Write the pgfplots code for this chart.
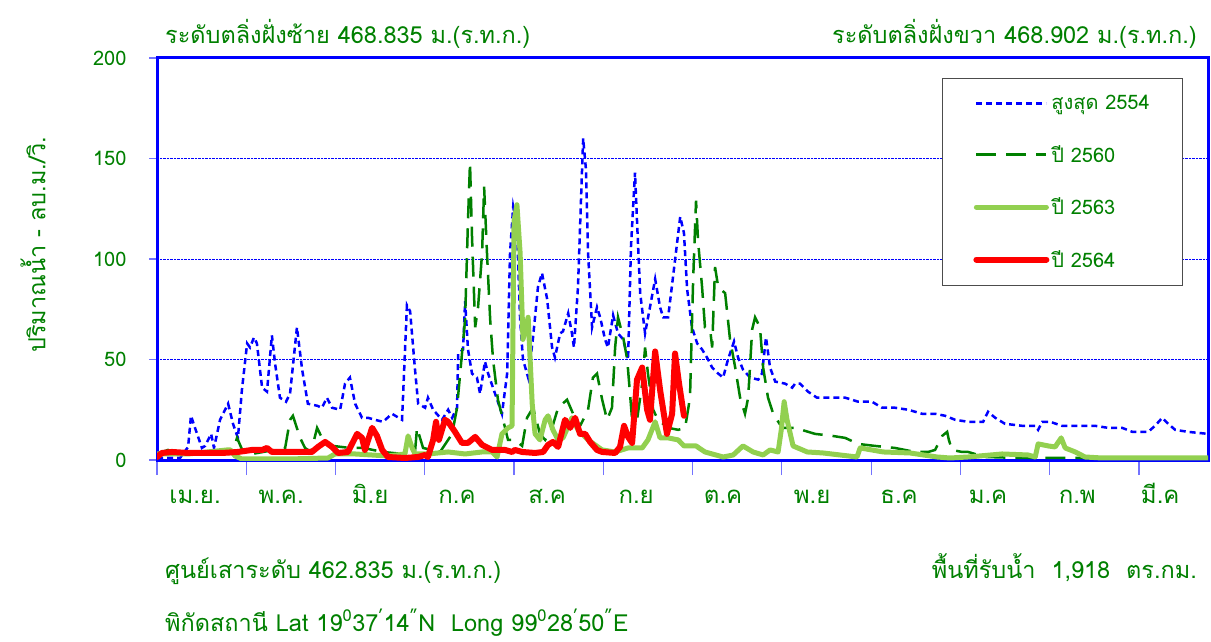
\documentclass[border=0pt]{standalone}
\usepackage{pgfplots}
\pgfplotsset{compat=1.18}
\usepackage{fontspec}
\setmainfont[Script=Thai]{Loma}
\definecolor{tgreen}{RGB}{0,128,0}
\definecolor{lgreen}{RGB}{146,208,80}
\definecolor{dgreen}{RGB}{0,128,0}
\begin{document}
\begin{tikzpicture}[x=1pt,y=1pt]
\useasboundingbox (0,0) rectangle (1211,641);
\begin{axis}[
  at={(157pt,181pt)}, anchor=south west, scale only axis,
  width=1051pt, height=402pt,
  xmin=0, xmax=365, ymin=0, ymax=200,
  axis line style={draw=blue, line width=3pt},
  ytick={0,50,100,150,200},
  xtick={13.2,43.1,74.0,104.2,135.5,166.4,196.6,227.5,257.7,288.6,319.6,348.4},
  xticklabels={เม.ย.,พ.ค.,มิ.ย,ก.ค,ส.ค,ก.ย,ต.ค,พ.ย,ธ.ค,ม.ค,ก.พ,มี.ค},
  minor xtick={0,31,62,93,124,155,186,217,248,279,310,341},
  tick align=outside, xtick pos=bottom, ytick pos=left,
  major tick length=8pt, minor tick length=15pt,
  major x tick style={draw=none},
  minor tick style={draw=blue!55, line width=1.2pt},
  major y tick style={draw=blue!55, line width=1.2pt},
  ymajorgrids, grid style={draw=blue, densely dotted, line width=0.8pt},
  /pgf/number format/assume math mode=true,
  yticklabel style={font=\fontsize{20}{20}\selectfont, text=tgreen},
  xticklabel style={font=\fontsize{24}{24}\selectfont, text=tgreen, text height=15pt, text depth=4pt},
  yticklabel shift=19pt,
  xticklabel shift=17pt,
  legend style={at={(0.976,0.950)}, anchor=north east, draw=black!70, line width=1pt,
    fill=white, font=\fontsize{20}{20}\selectfont, text=tgreen,
    inner xsep=30.5pt, inner ysep=15pt, row sep=30pt},
  legend cell align=left,
  legend image code/.code={\draw[#1] (0pt,0pt) -- (70pt,0pt);},
]
\addplot[blue, line width=2.5pt, dash pattern=on 6pt off 4pt] coordinates {
(0,1)(3,1)(8,1)(10.8,6.5)(11.8,22)(13.2,16)(15.6,6)(16.7,7)(18.8,13)(19.8,6)(21.9,20)(24.7,28)(26.4,18)(28.1,11)(29.5,35)(31.3,58)(32.3,56)(33.7,61)(34.7,58)(36.5,36)(38.2,34)(39.9,62)(41.0,48)(42.7,31)(44.8,29)(46.2,33)(48.6,66)(50.4,45)(52.4,28)(55.6,27)(57.3,26)(59.0,31)(60.8,26)(63.6,25)(65.3,38)(67.0,41)(68.8,28)(71.2,21)(73.3,21)(75.7,20)(78.5,19)(81.6,23)(85.1,20)(86.8,77)(87.9,74)(89.6,45)(90.7,28)(93.1,26)(94.1,31)(95.9,25)(99.0,20)(101.1,25)(102.5,21)(104.2,26)(104.6,53)(106.3,55)(107.0,79)(108.0,55)(109.4,43)(111.1,41)(112.2,33)(113.9,49)(115.0,43)(117.4,33)(119.1,26)(119.8,23)(121.6,43)(122.6,103)(123.7,126)(125.0,116)(126.1,70)(127.1,50)(128.9,41)(130.6,61)(132.3,86)(133.7,93)(135.5,80)(137.2,56)(138.2,51)(140.0,63)(141.0,64)(142.8,73)(144.1,63)(144.8,56)(146.2,86)(147.6,144)(148.0,160)(149.0,144)(149.7,103)(151.1,66)(152.8,76)(153.9,71)(155.6,60)(156.6,56)(158.4,72)(160.1,63)(161.9,60)(163.6,50)(164.6,106)(166.0,143)(166.7,119)(167.8,83)(169.5,63)(171.2,76)(173.0,90)(174.7,76)(175.8,71)(177.5,71)(179.2,91)(181.7,121)(183.0,113)(184.1,85)(185.8,66)(187.6,58)(189.3,55)(191.0,51)(192.8,46)(194.9,43)(196.6,41)(198.3,50)(200.4,59)(201.8,51)(203.5,45)(206.0,41)(208.8,40)(210.1,43)(211.5,61)(212.9,46)(214.7,39)(218.1,38)(220.6,36)(221.6,38)(223.3,38)(226.1,34)(229.2,31)(234.5,31)(239.0,31)(243.5,29)(248.3,29)(251.8,26)(256.3,26)(260.9,25)(265.7,23)(270.2,23)(273.7,22)(277.2,20)(281.7,19)(286.9,19)(288.6,24)(291.1,21)(294.5,18)(300.5,17)(305.0,17)(306.0,15)(307.4,19)(310.2,19)(314.3,17)(319.9,17)(325.8,17)(330.3,16)(335.2,16)(338.7,14)(344.2,14)(346.6,17)(349.1,21)(351.2,18)(353.6,15)(358.1,14)(365,13)};
\addlegendentry{สูงสุด 2554}
\addplot[dgreen, line width=2.5pt, dash pattern=on 20pt off 10pt] coordinates {
(0,3)(3.8,5)(7,3)(26,3)(27.8,11)(29.9,4)(33,3)(44.5,6)(46.2,20)(47.2,22)(49.7,11)(51.4,6)(53.5,4)(55.6,16)(57.3,11)(61.1,7)(67.0,6)(71.6,6)(78.5,4)(85.4,3)(89.6,4)(90.3,16)(92.4,6)(98.3,4)(102.5,13)(104.2,26)(107.0,70)(108.0,119)(108.7,148)(109.4,111)(110.5,66)(111.5,76)(112.9,103)(113.6,136)(114.6,103)(115.7,70)(116.7,50)(118.4,30)(120.2,20)(121.9,10)(124.3,10)(126.8,7)(128.5,21)(130.6,26)(133.0,13)(134.8,10)(137.2,16)(139.3,26)(142.4,30)(144.5,23)(146.2,15)(148.0,20)(149.7,25)(151.4,41)(152.8,43)(154.6,30)(156.3,20)(158.0,26)(159.1,56)(160.1,71)(161.9,61)(163.3,50)(165.0,20)(166.7,20)(168.5,38)(169.5,56)(170.5,43)(172.3,25)(174.0,20)(177.5,16)(181.0,15)(183.4,16)(185.1,31)(186.2,90)(187.2,129)(187.9,109)(189.3,86)(190.3,66)(192.1,65)(192.8,56)(193.8,96)(194.9,86)(197.3,83)(199.0,60)(200.8,46)(202.5,31)(204.2,23)(205.3,31)(206.7,65)(207.7,71)(209.4,66)(210.5,46)(212.2,31)(214.0,23)(217.1,16)(221.6,16)(228.5,13)(234.5,12)(239.0,11)(243.5,8)(249.4,7)(256.3,6)(263.3,4)(267.8,4)(270.2,5)(272.7,12)(274.4,14)(275.0,10)(276.1,5)(279.6,4)(281.7,4)(287.6,1.5)(300,1)(365,1)};
\addlegendentry{ปี 2560}
\addplot[lgreen, line width=5pt, line join=round, line cap=round] coordinates {
(0,3)(2.8,3)(10.8,3)(24.3,5)(25.5,5)(27.1,2)(29.5,0.5)(45.5,0.5)(59.4,1)(61.8,3)(68.8,3)(80.2,2)(86.1,3)(87.2,12)(88.6,6)(89.6,3)(94.1,3)(101.1,4)(107.0,3)(112.9,4)(116.4,4)(118.1,1.5)(119.8,13)(121.9,16)(123.3,17)(124.0,119)(125.0,127)(126.1,103)(127.1,60)(128.9,71)(130.3,28)(131.3,13)(133.0,10)(134.8,20)(135.8,22)(137.5,15)(139.3,10)(141.0,11)(144.1,21)(146.2,15)(149.7,10)(154.6,5)(159.1,4)(163.6,6)(168.5,6)(170.5,10)(173.0,19)(174.7,11)(177.5,11)(181.0,10)(183.0,7)(187.2,7)(190.3,4)(196.6,1.5)(200.1,2.5)(203.5,7)(207.0,4)(210.5,2.5)(212.9,5)(215.7,4)(216.8,15)(217.8,29)(218.8,20)(220.9,7)(225.8,4)(231.3,3.5)(243.1,1.5)(244.2,6)(252.2,4)(261.5,3.5)(270.9,1.5)(275.4,1)(281.7,1.5)(293.5,3)(302.5,2.5)(305.0,1.5)(306.0,8)(309.5,7)(311.9,6.5)(314.0,11)(315.4,6)(318.9,4)(322.3,1.5)(328.2,1)(365,1)};
\addlegendentry{ปี 2563}
\addplot[red, line width=6pt, line join=round, line cap=round] coordinates {
(0,1.5)(1.7,3.5)(5.2,4)(10.8,3.5)(22.6,3.5)(28.1,4)(33.0,5)(36.5,5)(38.2,6)(39.9,4)(45.5,4)(53.8,4)(55.9,6.5)(58.4,9)(60.8,6.5)(62.9,3.5)(66.3,4)(69.5,13)(71.2,11)(72.2,5)(74.7,16)(76.4,12)(78.2,5)(80.2,1.5)(86.1,1)(90.7,1.5)(93.1,2.5)(94.1,1.5)(95.9,10)(96.9,19)(97.9,10)(100.0,20)(101.1,19)(103.5,14)(105.9,8.5)(108.0,8.5)(110.5,11.5)(112.9,7.5)(116.4,5)(120.9,5)(123.3,4)(124.3,5)(126.8,4)(131.3,3.5)(134.1,4)(135.8,7.5)(137.5,9)(139.3,6.5)(141.7,20)(143.5,16)(145.2,21)(146.9,13)(148.7,13)(150.4,9)(152.8,5)(154.6,4)(159.1,3.5)(160.8,6.5)(162.2,17)(163.6,11.5)(165.0,8.5)(166.7,40)(168.5,46)(170.2,25)(171.2,20)(173.0,54)(174.7,35)(177.1,13)(178.9,23)(179.9,53)(181.3,38)(183.0,22)};
\addlegendentry{ปี 2564}
\end{axis}
\begin{scope}[every node/.style={text=tgreen, font=\fontsize{23.5}{23.5}\selectfont, inner sep=0pt}]
\node[anchor=base west] at (165,597) {ระดับตลิ่งฝั่งซ้าย 468.835 ม.(ร.ท.ก.)};
\node[anchor=base east] at (1197,597) {ระดับตลิ่งฝั่งขวา 468.902 ม.(ร.ท.ก.)};
\node[anchor=base west] at (165,63) {ศูนย์เสาระดับ 462.835 ม.(ร.ท.ก.)};
\node[anchor=base east] at (1197,63) {พื้นที่รับน้ำ\ \ 1,918\ \ ตร.กม.};
\node[anchor=base west] at (165,10) {พิกัดสถานี Lat 19\textsuperscript{0}37\textsuperscript{'}14\textsuperscript{"}N\ \ Long 99\textsuperscript{0}28\textsuperscript{'}50\textsuperscript{"}E};
\node[rotate=90] at (33,396) {ปริมาณน้ำ - ลบ.ม./วิ.};
\end{scope}
\end{tikzpicture}
\end{document}
